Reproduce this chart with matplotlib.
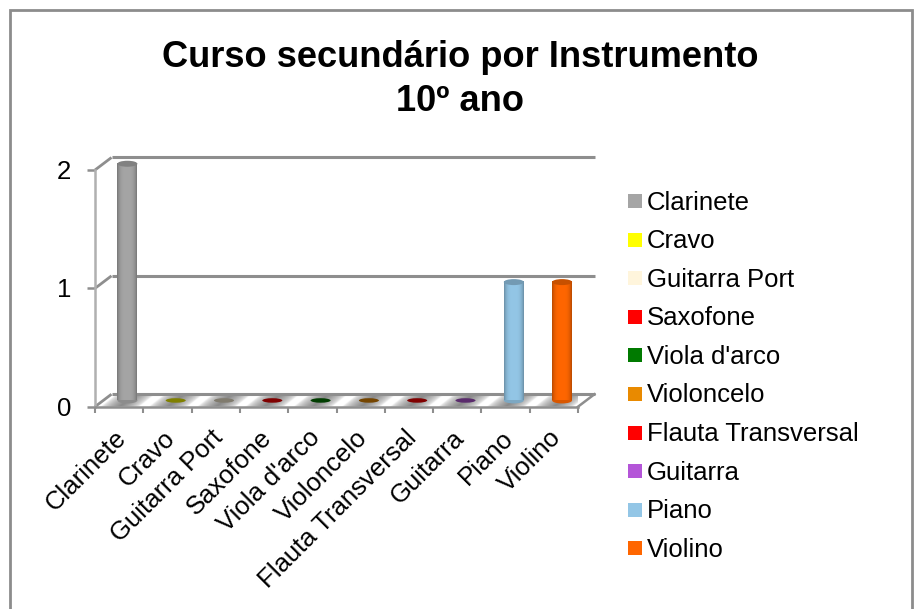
import numpy as np
import matplotlib
matplotlib.use("Agg")
import matplotlib.pyplot as plt
from matplotlib.patches import Ellipse, Polygon, Rectangle
from matplotlib.transforms import Affine2D
from matplotlib.colors import to_rgb

instruments = ["Clarinete", "Cravo", "Guitarra Port", "Saxofone", "Viola d'arco",
               "Violoncelo", "Flauta Transversal", "Guitarra", "Piano", "Violino"]
values = [2, 0, 0, 0, 0, 0, 0, 0, 1, 1]
colors = ["#A5A5A5", "#FFFF00", "#FFF5DC", "#FF0000", "#007A00",
          "#E98A00", "#FF0000", "#B455D8", "#93C6E6", "#FF6600"]
y_ticks = [0, 1, 2]
title_text = "Curso secundário por Instrumento\n10º ano"

W, H = 917, 609
plt.rcParams['font.family'] = ['Liberation Sans', 'DejaVu Sans']
fig = plt.figure(figsize=(W / 100, H / 100), dpi=100)
fig.patch.set_facecolor("white")

def figx(p): return p / W
def figy(p): return 1 - p / H

# outer frame
fig.add_artist(Rectangle((figx(9.5), figy(640)), (912 - 9.5) / W, (640 - 10) / H, transform=fig.transFigure,
                         fc="none", ec="#8C8C8C", lw=2))

L, R, T, B = 95, 578, 170, 406.7
ax = fig.add_axes([figx(L), figy(B), (R - L) / W, (B - T) / H])
ax.set_xlim(0, 10)
ax.set_ylim(0, 2)
ax.axis("off")

grid = "#8E8E8E"
dx, dy = 16.5, 12.5
ddx = dx * 10 / (R - L)
ddy = dy * 2 / (B - T)

# floor with slanted shadows
floor = Polygon([(0, 0), (10, 0), (10 + ddx, ddy), (ddx, ddy)], closed=True, fc="white", ec="none", zorder=1)
ax.add_patch(floor)
xs = np.linspace(0, 10, 800)
shade = np.zeros((1, 800))
for c in range(10):
    d = np.abs(xs - (c + 0.5))
    shade[0] = np.maximum(shade[0], np.clip(1 - d / 0.4, 0, 1) ** 0.6)
cmap = matplotlib.colors.LinearSegmentedColormap.from_list("s", ["#FFFFFF", "#8A8A8A"])
im = ax.imshow(shade, extent=(0, 10, 0, ddy), cmap=cmap, aspect="auto", zorder=1.5,
               interpolation="bilinear", vmin=0, vmax=1)
im.set_transform(Affine2D.from_values(1, 0, ddx / ddy, 1, 0, 0) + ax.transData)
im.set_clip_path(floor)
ax.set_xlim(0, 10)
ax.set_ylim(0, 2)

# walls: gridlines, floor edges
for v in y_ticks:
    ax.plot([0, ddx], [v, v + ddy], color=grid, lw=2, clip_on=False, zorder=2, solid_capstyle="butt")
    ax.plot([ddx, 10 + ddx], [v + ddy, v + ddy], color=grid, lw=2.2, clip_on=False, zorder=2, solid_capstyle="butt")
    ax.plot([-8 * 10 / (R - L), 0], [v, v], color=grid, lw=1.8, clip_on=False, zorder=2, solid_capstyle="butt")
ax.plot([0, 0], [0, 2], color="#B0B0B0", lw=1.8, clip_on=False, zorder=2)
ax.plot([0, 10], [0, 0], color=grid, lw=1.8, clip_on=False, zorder=2)
ax.plot([10, 10 + ddx], [0, ddy], color=grid, lw=1.8, clip_on=False, zorder=2)
for i in range(11):
    ax.plot([i, i], [0, -6 * 2 / (B - T)], color=grid, lw=1.5, clip_on=False, zorder=2, solid_capstyle="butt")

# cylinders
bw = 20 * 10 / (R - L)
eh = 6 * 2 / (B - T)
prof = np.linspace(-1, 1, 64)
for i, (v, c) in enumerate(zip(values, colors)):
    base = np.array(to_rgb(c))
    cx = i + 0.5 + ddx / 2
    cy = ddy / 2
    if v > 0:
        shadef = 0.72 + 0.28 * np.clip(1 - np.abs(prof) ** 3.5, 0, 1)
        img = np.clip(base[None, None, :] * shadef[None, :, None], 0, 1)
        ax.imshow(img, extent=(cx - bw / 2, cx + bw / 2, cy, cy + v), aspect="auto", zorder=4,
                  interpolation="bilinear", clip_on=False)
        ax.add_patch(Ellipse((cx, cy), bw, eh, fc=base * 0.85, ec="none", zorder=3.9, clip_on=False))
        ax.add_patch(Ellipse((cx, cy + v), bw, eh, fc=base * 0.78, ec="none", zorder=5, clip_on=False))
    else:
        ax.add_patch(Ellipse((cx, cy), bw, eh * 0.75, fc=base * 0.5, ec="none", zorder=5, clip_on=False))
ax.set_xlim(0, 10)
ax.set_ylim(0, 2)

# y tick labels
for v in y_ticks:
    ax.annotate(str(v), (0, v), xytext=(-24, -2), textcoords="offset pixels", ha="right", va="center",
                fontsize=18.5, color="black", annotation_clip=False)
# category labels
for i, n in enumerate(instruments):
    ax.annotate(n, (i + 0.5, 0), xytext=(-5, -19), textcoords="offset pixels", rotation=45, rotation_mode="anchor",
                ha="right", va="top", fontsize=18.5, color="black", annotation_clip=False)

# title
fig.text(460 / W, figy(79.5), title_text, ha="center", va="center", fontsize=26.1, fontweight="bold",
         linespacing=1.33, color="black")

# legend
for i, (n, c) in enumerate(zip(instruments, colors)):
    yc = 201 + i * 38.6
    fig.add_artist(Rectangle((figx(628), figy(yc + 7)), 14 / W, 14 / H, transform=fig.transFigure, fc=c, ec="none"))
    fig.text(figx(647), figy(yc + 1.5), n, ha="left", va="center", fontsize=18.5, color="black")

fig.savefig("out.png", dpi=100)
